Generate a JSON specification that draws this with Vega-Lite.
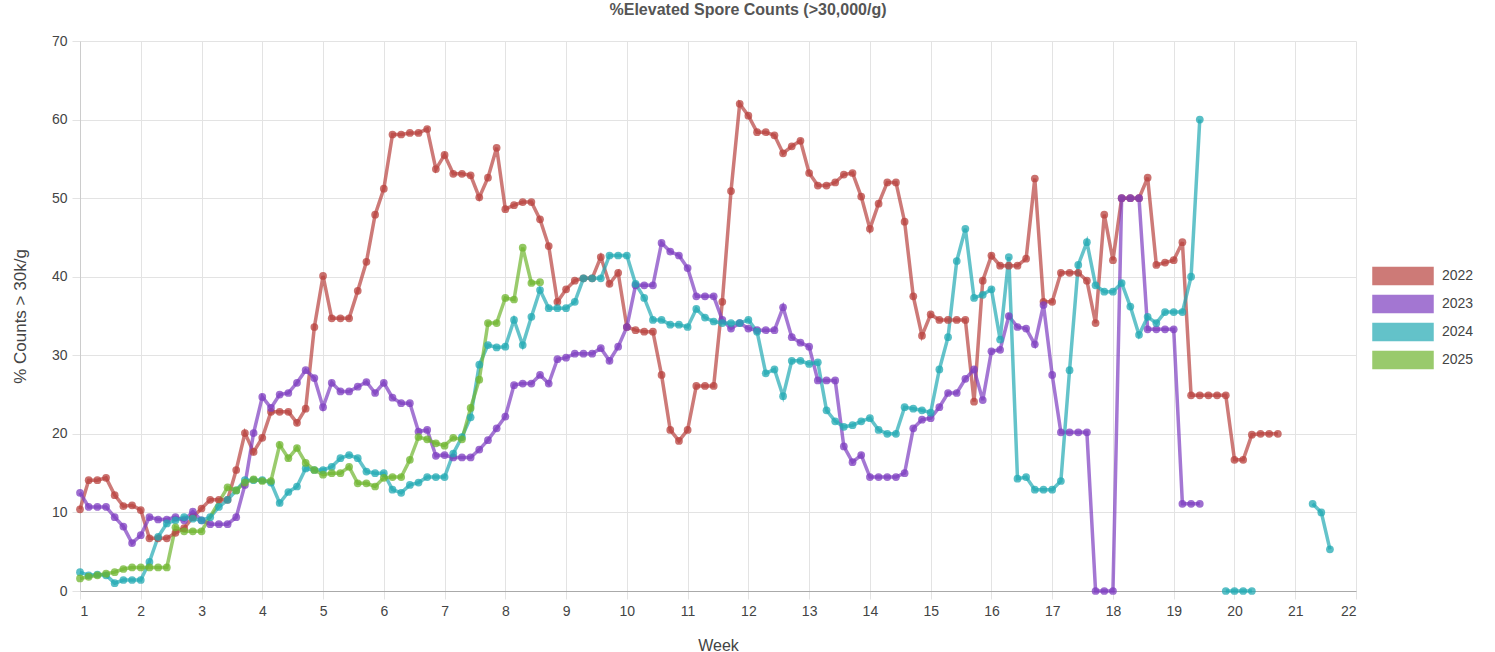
{
"$schema": "https://vega.github.io/schema/vega-lite/v6.json",
"width": 1276, "height": 550,
"autosize": {"type": "none"},
"padding": {"left": 80, "top": 41, "right": 139, "bottom": 61},
"background": "white",
"config": {"font": "Liberation Sans", "view": {"stroke": null}},
"title": {"text": "%Elevated Spore Counts (>30,000/g)", "fontSize": 16, "fontWeight": "bold", "color": "#555555", "offset": 16, "dx": 30, "font": "Liberation Sans"},
"data": {"values": [
{"year":"2022","week":1,"pct":10.4},{"year":"2022","week":1.143,"pct":14.1},{"year":"2022","week":1.286,"pct":14.1},{"year":"2022","week":1.429,"pct":14.4},{"year":"2022","week":1.571,"pct":12.2},{"year":"2022","week":1.714,"pct":10.8},{"year":"2022","week":1.857,"pct":10.9},
{"year":"2022","week":2,"pct":10.3},{"year":"2022","week":2.143,"pct":6.7},{"year":"2022","week":2.286,"pct":6.7},{"year":"2022","week":2.429,"pct":6.7},{"year":"2022","week":2.571,"pct":7.4},{"year":"2022","week":2.714,"pct":8.0},{"year":"2022","week":2.857,"pct":9.4},
{"year":"2022","week":3,"pct":10.5},{"year":"2022","week":3.143,"pct":11.6},{"year":"2022","week":3.286,"pct":11.6},{"year":"2022","week":3.429,"pct":11.6},{"year":"2022","week":3.571,"pct":15.4},{"year":"2022","week":3.714,"pct":20.1},{"year":"2022","week":3.857,"pct":17.7},
{"year":"2022","week":4,"pct":19.5},{"year":"2022","week":4.143,"pct":22.8},{"year":"2022","week":4.286,"pct":22.8},{"year":"2022","week":4.429,"pct":22.8},{"year":"2022","week":4.571,"pct":21.4},{"year":"2022","week":4.714,"pct":23.2},{"year":"2022","week":4.857,"pct":33.6},
{"year":"2022","week":5,"pct":40.1},{"year":"2022","week":5.143,"pct":34.7},{"year":"2022","week":5.286,"pct":34.7},{"year":"2022","week":5.429,"pct":34.7},{"year":"2022","week":5.571,"pct":38.2},{"year":"2022","week":5.714,"pct":41.9},{"year":"2022","week":5.857,"pct":47.9},
{"year":"2022","week":6,"pct":51.2},{"year":"2022","week":6.143,"pct":58.1},{"year":"2022","week":6.286,"pct":58.1},{"year":"2022","week":6.429,"pct":58.3},{"year":"2022","week":6.571,"pct":58.3},{"year":"2022","week":6.714,"pct":58.8},{"year":"2022","week":6.857,"pct":53.7},
{"year":"2022","week":7,"pct":55.5},{"year":"2022","week":7.143,"pct":53.1},{"year":"2022","week":7.286,"pct":53.1},{"year":"2022","week":7.429,"pct":52.9},{"year":"2022","week":7.571,"pct":50.1},{"year":"2022","week":7.714,"pct":52.6},{"year":"2022","week":7.857,"pct":56.4},
{"year":"2022","week":8,"pct":48.6},{"year":"2022","week":8.143,"pct":49.1},{"year":"2022","week":8.286,"pct":49.5},{"year":"2022","week":8.429,"pct":49.5},{"year":"2022","week":8.571,"pct":47.3},{"year":"2022","week":8.714,"pct":43.9},{"year":"2022","week":8.857,"pct":36.8},
{"year":"2022","week":9,"pct":38.4},{"year":"2022","week":9.143,"pct":39.5},{"year":"2022","week":9.286,"pct":39.8},{"year":"2022","week":9.429,"pct":39.8},{"year":"2022","week":9.571,"pct":42.5},{"year":"2022","week":9.714,"pct":39.1},{"year":"2022","week":9.857,"pct":40.5},
{"year":"2022","week":10,"pct":33.6},{"year":"2022","week":10.143,"pct":33.2},{"year":"2022","week":10.286,"pct":33},{"year":"2022","week":10.429,"pct":33},{"year":"2022","week":10.571,"pct":27.5},{"year":"2022","week":10.714,"pct":20.5},{"year":"2022","week":10.857,"pct":19.1},
{"year":"2022","week":11,"pct":20.5},{"year":"2022","week":11.143,"pct":26.1},{"year":"2022","week":11.286,"pct":26.1},{"year":"2022","week":11.429,"pct":26.1},{"year":"2022","week":11.571,"pct":36.8},{"year":"2022","week":11.714,"pct":50.9},{"year":"2022","week":11.857,"pct":62},
{"year":"2022","week":12,"pct":60.5},{"year":"2022","week":12.143,"pct":58.4},{"year":"2022","week":12.286,"pct":58.4},{"year":"2022","week":12.429,"pct":58},{"year":"2022","week":12.571,"pct":55.7},{"year":"2022","week":12.714,"pct":56.6},{"year":"2022","week":12.857,"pct":57.3},
{"year":"2022","week":13,"pct":53.2},{"year":"2022","week":13.143,"pct":51.6},{"year":"2022","week":13.286,"pct":51.6},{"year":"2022","week":13.429,"pct":52},{"year":"2022","week":13.571,"pct":53},{"year":"2022","week":13.714,"pct":53.2},{"year":"2022","week":13.857,"pct":50.2},
{"year":"2022","week":14,"pct":46.1},{"year":"2022","week":14.143,"pct":49.3},{"year":"2022","week":14.286,"pct":52},{"year":"2022","week":14.429,"pct":52},{"year":"2022","week":14.571,"pct":47},{"year":"2022","week":14.714,"pct":37.5},{"year":"2022","week":14.857,"pct":32.5},
{"year":"2022","week":15,"pct":35.2},{"year":"2022","week":15.143,"pct":34.5},{"year":"2022","week":15.286,"pct":34.5},{"year":"2022","week":15.429,"pct":34.5},{"year":"2022","week":15.571,"pct":34.5},{"year":"2022","week":15.714,"pct":24.1},{"year":"2022","week":15.857,"pct":39.5},
{"year":"2022","week":16,"pct":42.7},{"year":"2022","week":16.143,"pct":41.4},{"year":"2022","week":16.286,"pct":41.4},{"year":"2022","week":16.429,"pct":41.4},{"year":"2022","week":16.571,"pct":42.3},{"year":"2022","week":16.714,"pct":52.5},{"year":"2022","week":16.857,"pct":36.8},
{"year":"2022","week":17,"pct":36.8},{"year":"2022","week":17.143,"pct":40.5},{"year":"2022","week":17.286,"pct":40.5},{"year":"2022","week":17.429,"pct":40.5},{"year":"2022","week":17.571,"pct":39.5},{"year":"2022","week":17.714,"pct":34.1},{"year":"2022","week":17.857,"pct":47.9},
{"year":"2022","week":18,"pct":42.1},{"year":"2022","week":18.143,"pct":50},{"year":"2022","week":18.286,"pct":50},{"year":"2022","week":18.429,"pct":50},{"year":"2022","week":18.571,"pct":52.6},{"year":"2022","week":18.714,"pct":41.5},{"year":"2022","week":18.857,"pct":41.8},
{"year":"2022","week":19,"pct":42.1},{"year":"2022","week":19.143,"pct":44.4},{"year":"2022","week":19.286,"pct":24.9},{"year":"2022","week":19.429,"pct":24.9},{"year":"2022","week":19.571,"pct":24.9},{"year":"2022","week":19.714,"pct":24.9},{"year":"2022","week":19.857,"pct":24.9},
{"year":"2022","week":20,"pct":16.7},{"year":"2022","week":20.143,"pct":16.7},{"year":"2022","week":20.286,"pct":19.9},{"year":"2022","week":20.429,"pct":20},{"year":"2022","week":20.571,"pct":20},{"year":"2022","week":20.714,"pct":20},
{"year":"2023","week":1,"pct":12.5},{"year":"2023","week":1.143,"pct":10.7},{"year":"2023","week":1.286,"pct":10.7},{"year":"2023","week":1.429,"pct":10.7},{"year":"2023","week":1.571,"pct":9.4},{"year":"2023","week":1.714,"pct":8.2},{"year":"2023","week":1.857,"pct":6.1},
{"year":"2023","week":2,"pct":7.1},{"year":"2023","week":2.143,"pct":9.4},{"year":"2023","week":2.286,"pct":9.1},{"year":"2023","week":2.429,"pct":9.1},{"year":"2023","week":2.571,"pct":9.4},{"year":"2023","week":2.714,"pct":9.0},{"year":"2023","week":2.857,"pct":10.1},
{"year":"2023","week":3,"pct":9.0},{"year":"2023","week":3.143,"pct":8.5},{"year":"2023","week":3.286,"pct":8.5},{"year":"2023","week":3.429,"pct":8.5},{"year":"2023","week":3.571,"pct":9.4},{"year":"2023","week":3.714,"pct":13.5},{"year":"2023","week":3.857,"pct":20.1},
{"year":"2023","week":4,"pct":24.7},{"year":"2023","week":4.143,"pct":23.3},{"year":"2023","week":4.286,"pct":25.0},{"year":"2023","week":4.429,"pct":25.2},{"year":"2023","week":4.571,"pct":26.5},{"year":"2023","week":4.714,"pct":28.1},{"year":"2023","week":4.857,"pct":27.1},
{"year":"2023","week":5,"pct":23.4},{"year":"2023","week":5.143,"pct":26.5},{"year":"2023","week":5.286,"pct":25.4},{"year":"2023","week":5.429,"pct":25.4},{"year":"2023","week":5.571,"pct":26.0},{"year":"2023","week":5.714,"pct":26.6},{"year":"2023","week":5.857,"pct":25.2},
{"year":"2023","week":6,"pct":26.5},{"year":"2023","week":6.143,"pct":24.6},{"year":"2023","week":6.286,"pct":23.9},{"year":"2023","week":6.429,"pct":23.9},{"year":"2023","week":6.571,"pct":20.3},{"year":"2023","week":6.714,"pct":20.5},{"year":"2023","week":6.857,"pct":17.2},
{"year":"2023","week":7,"pct":17.3},{"year":"2023","week":7.143,"pct":17.0},{"year":"2023","week":7.286,"pct":17.0},{"year":"2023","week":7.429,"pct":17.0},{"year":"2023","week":7.571,"pct":18.0},{"year":"2023","week":7.714,"pct":19.2},{"year":"2023","week":7.857,"pct":20.7},
{"year":"2023","week":8,"pct":22.2},{"year":"2023","week":8.143,"pct":26.2},{"year":"2023","week":8.286,"pct":26.4},{"year":"2023","week":8.429,"pct":26.4},{"year":"2023","week":8.571,"pct":27.5},{"year":"2023","week":8.714,"pct":26.4},{"year":"2023","week":8.857,"pct":29.5},
{"year":"2023","week":9,"pct":29.7},{"year":"2023","week":9.143,"pct":30.2},{"year":"2023","week":9.286,"pct":30.2},{"year":"2023","week":9.429,"pct":30.2},{"year":"2023","week":9.571,"pct":30.9},{"year":"2023","week":9.714,"pct":29.3},{"year":"2023","week":9.857,"pct":31.1},
{"year":"2023","week":10,"pct":33.6},{"year":"2023","week":10.143,"pct":38.9},{"year":"2023","week":10.286,"pct":38.9},{"year":"2023","week":10.429,"pct":38.9},{"year":"2023","week":10.571,"pct":44.3},{"year":"2023","week":10.714,"pct":43.2},{"year":"2023","week":10.857,"pct":42.7},
{"year":"2023","week":11,"pct":41.1},{"year":"2023","week":11.143,"pct":37.5},{"year":"2023","week":11.286,"pct":37.5},{"year":"2023","week":11.429,"pct":37.5},{"year":"2023","week":11.571,"pct":34.5},{"year":"2023","week":11.714,"pct":33.4},{"year":"2023","week":11.857,"pct":34.1},
{"year":"2023","week":12,"pct":33.4},{"year":"2023","week":12.143,"pct":33.2},{"year":"2023","week":12.286,"pct":33.2},{"year":"2023","week":12.429,"pct":33.2},{"year":"2023","week":12.571,"pct":36.1},{"year":"2023","week":12.714,"pct":32.3},{"year":"2023","week":12.857,"pct":31.6},
{"year":"2023","week":13,"pct":31.1},{"year":"2023","week":13.143,"pct":26.8},{"year":"2023","week":13.286,"pct":26.8},{"year":"2023","week":13.429,"pct":26.8},{"year":"2023","week":13.571,"pct":18.4},{"year":"2023","week":13.714,"pct":16.4},{"year":"2023","week":13.857,"pct":17.3},
{"year":"2023","week":14,"pct":14.5},{"year":"2023","week":14.143,"pct":14.5},{"year":"2023","week":14.286,"pct":14.5},{"year":"2023","week":14.429,"pct":14.5},{"year":"2023","week":14.571,"pct":15.0},{"year":"2023","week":14.714,"pct":20.7},{"year":"2023","week":14.857,"pct":21.8},
{"year":"2023","week":15,"pct":22.0},{"year":"2023","week":15.143,"pct":23.4},{"year":"2023","week":15.286,"pct":25.2},{"year":"2023","week":15.429,"pct":25.2},{"year":"2023","week":15.571,"pct":27.0},{"year":"2023","week":15.714,"pct":28.2},{"year":"2023","week":15.857,"pct":24.3},
{"year":"2023","week":16,"pct":30.5},{"year":"2023","week":16.143,"pct":30.7},{"year":"2023","week":16.286,"pct":35.0},{"year":"2023","week":16.429,"pct":33.6},{"year":"2023","week":16.571,"pct":33.4},{"year":"2023","week":16.714,"pct":31.4},{"year":"2023","week":16.857,"pct":36.4},
{"year":"2023","week":17,"pct":27.5},{"year":"2023","week":17.143,"pct":20.2},{"year":"2023","week":17.286,"pct":20.2},{"year":"2023","week":17.429,"pct":20.2},{"year":"2023","week":17.571,"pct":20.2},{"year":"2023","week":17.714,"pct":0},{"year":"2023","week":17.857,"pct":0},
{"year":"2023","week":18,"pct":0},{"year":"2023","week":18.143,"pct":50},{"year":"2023","week":18.286,"pct":50},{"year":"2023","week":18.429,"pct":50},{"year":"2023","week":18.571,"pct":33.3},{"year":"2023","week":18.714,"pct":33.3},{"year":"2023","week":18.857,"pct":33.3},
{"year":"2023","week":19,"pct":33.3},{"year":"2023","week":19.143,"pct":11.1},{"year":"2023","week":19.286,"pct":11.1},{"year":"2023","week":19.429,"pct":11.1},
{"year":"2024","week":1,"pct":2.4},{"year":"2024","week":1.143,"pct":2.0},{"year":"2024","week":1.286,"pct":2.1},{"year":"2024","week":1.429,"pct":2.0},{"year":"2024","week":1.571,"pct":1.0},{"year":"2024","week":1.714,"pct":1.4},{"year":"2024","week":1.857,"pct":1.4},
{"year":"2024","week":2,"pct":1.4},{"year":"2024","week":2.143,"pct":3.7},{"year":"2024","week":2.286,"pct":6.9},{"year":"2024","week":2.429,"pct":8.6},{"year":"2024","week":2.571,"pct":9.0},{"year":"2024","week":2.714,"pct":9.4},{"year":"2024","week":2.857,"pct":9.2},
{"year":"2024","week":3,"pct":9.0},{"year":"2024","week":3.143,"pct":9.4},{"year":"2024","week":3.286,"pct":10.7},{"year":"2024","week":3.429,"pct":11.6},{"year":"2024","week":3.571,"pct":12.8},{"year":"2024","week":3.714,"pct":14.1},{"year":"2024","week":3.857,"pct":14.1},
{"year":"2024","week":4,"pct":14.1},{"year":"2024","week":4.143,"pct":13.8},{"year":"2024","week":4.286,"pct":11.2},{"year":"2024","week":4.429,"pct":12.6},{"year":"2024","week":4.571,"pct":13.3},{"year":"2024","week":4.714,"pct":15.6},{"year":"2024","week":4.857,"pct":15.4},
{"year":"2024","week":5,"pct":15.4},{"year":"2024","week":5.143,"pct":15.8},{"year":"2024","week":5.286,"pct":16.9},{"year":"2024","week":5.429,"pct":17.3},{"year":"2024","week":5.571,"pct":16.9},{"year":"2024","week":5.714,"pct":15.2},{"year":"2024","week":5.857,"pct":15.0},
{"year":"2024","week":6,"pct":15.0},{"year":"2024","week":6.143,"pct":12.9},{"year":"2024","week":6.286,"pct":12.5},{"year":"2024","week":6.429,"pct":13.5},{"year":"2024","week":6.571,"pct":13.8},{"year":"2024","week":6.714,"pct":14.5},{"year":"2024","week":6.857,"pct":14.5},
{"year":"2024","week":7,"pct":14.5},{"year":"2024","week":7.143,"pct":17.5},{"year":"2024","week":7.286,"pct":19.6},{"year":"2024","week":7.429,"pct":22.1},{"year":"2024","week":7.571,"pct":28.8},{"year":"2024","week":7.714,"pct":31.3},{"year":"2024","week":7.857,"pct":31.0},
{"year":"2024","week":8,"pct":31.1},{"year":"2024","week":8.143,"pct":34.5},{"year":"2024","week":8.286,"pct":31.3},{"year":"2024","week":8.429,"pct":34.9},{"year":"2024","week":8.571,"pct":38.3},{"year":"2024","week":8.714,"pct":36.0},{"year":"2024","week":8.857,"pct":36.0},
{"year":"2024","week":9,"pct":36.0},{"year":"2024","week":9.143,"pct":36.8},{"year":"2024","week":9.286,"pct":39.8},{"year":"2024","week":9.429,"pct":39.8},{"year":"2024","week":9.571,"pct":39.8},{"year":"2024","week":9.714,"pct":42.7},{"year":"2024","week":9.857,"pct":42.7},
{"year":"2024","week":10,"pct":42.7},{"year":"2024","week":10.143,"pct":39.1},{"year":"2024","week":10.286,"pct":37.3},{"year":"2024","week":10.429,"pct":34.5},{"year":"2024","week":10.571,"pct":34.5},{"year":"2024","week":10.714,"pct":33.9},{"year":"2024","week":10.857,"pct":33.9},
{"year":"2024","week":11,"pct":33.6},{"year":"2024","week":11.143,"pct":35.9},{"year":"2024","week":11.286,"pct":34.8},{"year":"2024","week":11.429,"pct":34.3},{"year":"2024","week":11.571,"pct":34.1},{"year":"2024","week":11.714,"pct":34.1},{"year":"2024","week":11.857,"pct":34.1},
{"year":"2024","week":12,"pct":34.5},{"year":"2024","week":12.143,"pct":33.0},{"year":"2024","week":12.286,"pct":27.7},{"year":"2024","week":12.429,"pct":28.2},{"year":"2024","week":12.571,"pct":24.8},{"year":"2024","week":12.714,"pct":29.3},{"year":"2024","week":12.857,"pct":29.3},
{"year":"2024","week":13,"pct":28.9},{"year":"2024","week":13.143,"pct":29.1},{"year":"2024","week":13.286,"pct":23.0},{"year":"2024","week":13.429,"pct":21.6},{"year":"2024","week":13.571,"pct":20.9},{"year":"2024","week":13.714,"pct":21.1},{"year":"2024","week":13.857,"pct":21.6},
{"year":"2024","week":14,"pct":22.0},{"year":"2024","week":14.143,"pct":20.5},{"year":"2024","week":14.286,"pct":20.0},{"year":"2024","week":14.429,"pct":20.0},{"year":"2024","week":14.571,"pct":23.4},{"year":"2024","week":14.714,"pct":23.2},{"year":"2024","week":14.857,"pct":23.0},
{"year":"2024","week":15,"pct":22.7},{"year":"2024","week":15.143,"pct":28.2},{"year":"2024","week":15.286,"pct":32.3},{"year":"2024","week":15.429,"pct":42.0},{"year":"2024","week":15.571,"pct":46.1},{"year":"2024","week":15.714,"pct":37.3},{"year":"2024","week":15.857,"pct":37.7},
{"year":"2024","week":16,"pct":38.4},{"year":"2024","week":16.143,"pct":32.0},{"year":"2024","week":16.286,"pct":42.5},{"year":"2024","week":16.429,"pct":14.3},{"year":"2024","week":16.571,"pct":14.5},{"year":"2024","week":16.714,"pct":12.9},{"year":"2024","week":16.857,"pct":12.9},
{"year":"2024","week":17,"pct":12.9},{"year":"2024","week":17.143,"pct":14.0},{"year":"2024","week":17.286,"pct":28.1},{"year":"2024","week":17.429,"pct":41.5},{"year":"2024","week":17.571,"pct":44.4},{"year":"2024","week":17.714,"pct":38.9},{"year":"2024","week":17.857,"pct":38.1},
{"year":"2024","week":18,"pct":38.1},{"year":"2024","week":18.143,"pct":39.2},{"year":"2024","week":18.286,"pct":36.2},{"year":"2024","week":18.429,"pct":32.6},{"year":"2024","week":18.571,"pct":34.9},{"year":"2024","week":18.714,"pct":34.1},{"year":"2024","week":18.857,"pct":35.5},
{"year":"2024","week":19,"pct":35.5},{"year":"2024","week":19.143,"pct":35.5},{"year":"2024","week":19.286,"pct":40.0},{"year":"2024","week":19.429,"pct":60.0},{"year":"2024","week":19.643,"pct":null},
{"year":"2024","week":19.857,"pct":0},{"year":"2024","week":20,"pct":0},{"year":"2024","week":20.143,"pct":0},{"year":"2024","week":20.286,"pct":0},{"year":"2024","week":20.8,"pct":null},
{"year":"2024","week":21.286,"pct":11.1},{"year":"2024","week":21.429,"pct":10.0},{"year":"2024","week":21.571,"pct":5.3},
{"year":"2025","week":1,"pct":1.6},{"year":"2025","week":1.143,"pct":1.8},{"year":"2025","week":1.286,"pct":2.0},{"year":"2025","week":1.429,"pct":2.2},{"year":"2025","week":1.571,"pct":2.4},{"year":"2025","week":1.714,"pct":2.8},{"year":"2025","week":1.857,"pct":3.0},
{"year":"2025","week":2,"pct":3.0},{"year":"2025","week":2.143,"pct":3.0},{"year":"2025","week":2.286,"pct":3.0},{"year":"2025","week":2.429,"pct":3.0},{"year":"2025","week":2.571,"pct":8.1},{"year":"2025","week":2.714,"pct":7.6},{"year":"2025","week":2.857,"pct":7.6},
{"year":"2025","week":3,"pct":7.6},{"year":"2025","week":3.429,"pct":13.2},{"year":"2025","week":3.571,"pct":12.8},{"year":"2025","week":3.714,"pct":13.8},{"year":"2025","week":3.857,"pct":14.2},
{"year":"2025","week":4,"pct":14.0},{"year":"2025","week":4.143,"pct":14.0},{"year":"2025","week":4.286,"pct":18.6},{"year":"2025","week":4.429,"pct":16.9},{"year":"2025","week":4.571,"pct":18.2},{"year":"2025","week":4.714,"pct":16.3},{"year":"2025","week":4.857,"pct":15.4},
{"year":"2025","week":5,"pct":14.8},{"year":"2025","week":5.143,"pct":15.0},{"year":"2025","week":5.286,"pct":15.0},{"year":"2025","week":5.429,"pct":15.8},{"year":"2025","week":5.571,"pct":13.7},{"year":"2025","week":5.714,"pct":13.7},{"year":"2025","week":5.857,"pct":13.3},
{"year":"2025","week":6,"pct":14.4},{"year":"2025","week":6.143,"pct":14.5},{"year":"2025","week":6.286,"pct":14.5},{"year":"2025","week":6.429,"pct":16.7},{"year":"2025","week":6.571,"pct":19.6},{"year":"2025","week":6.714,"pct":19.3},{"year":"2025","week":6.857,"pct":18.8},
{"year":"2025","week":7,"pct":18.5},{"year":"2025","week":7.143,"pct":19.5},{"year":"2025","week":7.286,"pct":19.3},{"year":"2025","week":7.429,"pct":23.3},{"year":"2025","week":7.571,"pct":26.9},{"year":"2025","week":7.714,"pct":34.1},{"year":"2025","week":7.857,"pct":34.1},
{"year":"2025","week":8,"pct":37.3},{"year":"2025","week":8.143,"pct":37.1},{"year":"2025","week":8.286,"pct":43.7},{"year":"2025","week":8.429,"pct":39.2},{"year":"2025","week":8.571,"pct":39.3}
]},
"encoding": {
  "x": {"field": "week", "type": "quantitative",
    "scale": {"domain": [1, 22], "nice": false, "zero": false},
    "axis": {"values": [1,2,3,4,5,6,7,8,9,10,11,12,13,14,15,16,17,18,19,20,21,22], "format": "d",
      "title": "Week", "titleFontSize": 16, "titleFontWeight": "normal", "titleColor": "#444444", "titlePadding": 19,
      "labelFontSize": 14, "labelColor": "#444444", "labelPadding": 5,
      "gridColor": "#e3e3e3", "domainColor": "#aaaaaa", "tickColor": "#e3e3e3", "tickSize": 8}},
  "y": {"field": "pct", "type": "quantitative",
    "scale": {"domain": [0, 70], "nice": false},
    "axis": {"values": [0,10,20,30,40,50,60,70],
      "title": "% Counts > 30k/g", "titleFontSize": 17, "titleFontWeight": "normal", "titleColor": "#444444", "titlePadding": 22,
      "labelFontSize": 14, "labelColor": "#444444", "labelPadding": 5,
      "gridColor": "#e3e3e3", "domainColor": "#cccccc", "tickColor": "#e3e3e3", "tickSize": 8}},
  "color": {"field": "year", "type": "nominal",
    "scale": {"domain": ["2022","2023","2024","2025"], "range": ["#b8423e","#7d3dc0","#22a9b3","#6fb52f"]},
    "legend": {"orient": "none", "legendX": 1292, "legendY": 221, "title": null,
      "symbolType": "M-1,-0.28H1V0.28H-1Z", "symbolSize": 3600, "clipHeight": 28, "rowPadding": 0,
      "labelFontSize": 14, "labelColor": "#444444", "labelOffset": 8,
      "encode": {"symbols": {"update": {"fill": {"scale": "color", "field": "value"}, "fillOpacity": {"value": 0.55}, "stroke": {"scale": "color", "field": "value"}, "strokeOpacity": {"value": 0.85}, "strokeWidth": {"value": 2.5}, "opacity": {"value": 1}}}}}}
},
"layer": [
  {"mark": {"type": "line", "strokeWidth": 3.5, "opacity": 0.7, "invalid": "break-paths-filter-domains"}},
  {"mark": {"type": "circle", "size": 60, "opacity": 0.75}}
]
}
